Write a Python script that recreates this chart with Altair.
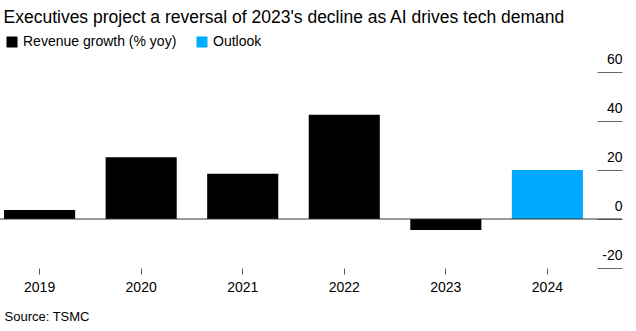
import altair as alt
import pandas as pd

years = ["2019", "2020", "2021", "2022", "2023", "2024"]
values = [3.7, 25.2, 18.5, 42.6, -4.5, 20.0]
series = ["Revenue growth (% yoy)"] * 5 + ["Outlook"]
series_domain = ["Revenue growth (% yoy)", "Outlook"]
series_colors = ["#000000", "#00AAFF"]
y_ticks = [-20, 0, 20, 40, 60]

df = pd.DataFrame({"year": years, "value": values, "series": series})
FONT = "Liberation Sans"

bars = alt.Chart(df).mark_bar().encode(
    x=alt.X(
        "year:N",
        scale=alt.Scale(paddingInner=0.3, paddingOuter=0.04),
        axis=alt.Axis(
            title="Source: TSMC",
            titleX=4, titleY=48, titleAlign="left", titleBaseline="middle",
            titleFontWeight="normal", titleFontSize=13, titleFont=FONT, titleColor="#000",
            labelAngle=0, labelFontSize=14, labelFont=FONT, labelColor="#000",
            labelPadding=6, tickSize=6, tickColor="#555", domain=False, grid=False,
        ),
    ),
    y=alt.Y(
        "value:Q",
        scale=alt.Scale(domain=[-20, 60], nice=False, zero=False),
        axis=alt.Axis(
            title=None, orient="right", values=y_ticks, offset=10, tickSize=25,
            tickColor="#666", domain=False, grid=False,
            labelExpr="replace(datum.label, '\u2212', '-')",
            labelAlign="right", labelPadding=0, labelBaseline="alphabetic",
            labelOffset=-9, labelFontSize=14, labelFont=FONT, labelColor="#000",
        ),
    ),
    color=alt.Color(
        "series:N",
        scale=alt.Scale(domain=series_domain, range=series_colors),
        legend=alt.Legend(
            title=None, orient="none", legendX=5, legendY=-37, direction="horizontal",
            symbolType="square", symbolSize=121, symbolStrokeWidth=0, symbolOpacity=1,
            labelFontSize=14, labelFont=FONT, labelColor="#000", labelOffset=4,
            columnPadding=18,
        ),
    ),
)

zero = alt.Chart(pd.DataFrame({"y": [0]})).mark_rule(color="#333", strokeWidth=1).encode(
    y="y:Q", x=alt.value(0), x2=alt.value(622)
)

chart = alt.layer(bars, zero).properties(
    width=587,
    height=196,
    title=alt.TitleParams(
        "Executives project a reversal of 2023's decline as AI drives tech demand",
        anchor="start", fontSize=17.5, font=FONT, fontWeight="normal", color="#000",
        offset=9, dx=4,
    ),
    autosize=alt.AutoSizeParams(type="none"),
    padding={"left": 0, "top": 72, "right": 49, "bottom": 63},
).configure_view(stroke=None)

chart.save("out.html", embed_options={"renderer": "svg", "actions": False})
